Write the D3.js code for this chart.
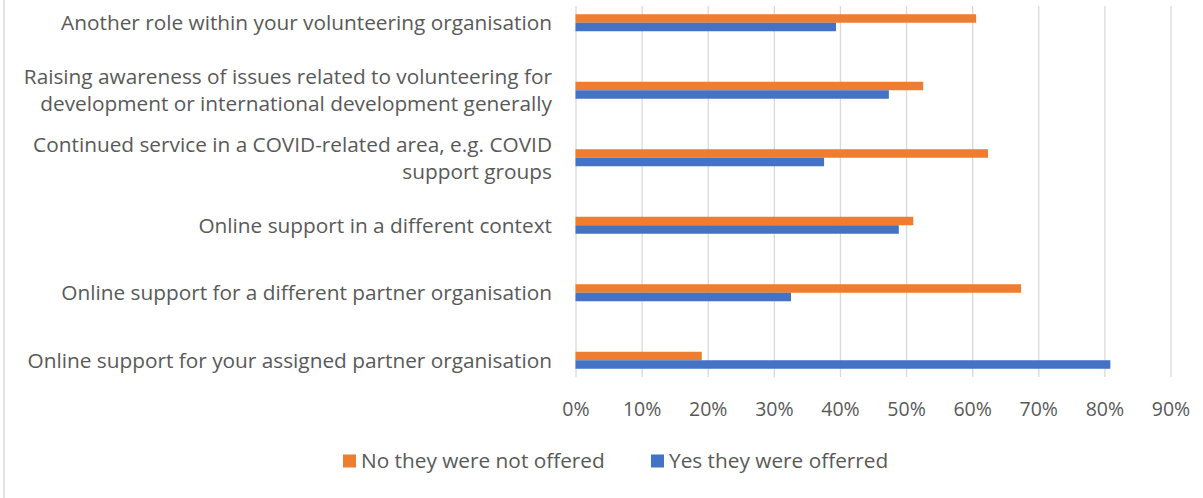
<!DOCTYPE html>
<html>
<head>
<meta charset="utf-8">
<script src="https://cdn.jsdelivr.net/npm/d3@7"></script>
<style>
  body { margin: 0; background: #fff; }
  svg { display: block; font-family: "Open Sans", sans-serif; }
</style>
</head>
<body>
<svg id="chart"></svg>
<script>
var width = 1203;
var height = 498;

// categories, top to bottom (\n = where the label wraps)
var categories = [
  "Another role within your volunteering organisation",
  "Raising awareness of issues related to volunteering for\ndevelopment or international development generally",
  "Continued service in a COVID-related area, e.g. COVID\nsupport groups",
  "Online support in a different context",
  "Online support for a different partner organisation",
  "Online support for your assigned partner organisation"
];
var seriesNames = ["No they were not offered", "Yes they were offerred"];
var noValues  = [0.606, 0.526, 0.624, 0.511, 0.674, 0.191];
var yesValues = [0.394, 0.474, 0.376, 0.489, 0.326, 0.809];
var tickValues = [0, 0.1, 0.2, 0.3, 0.4, 0.5, 0.6, 0.7, 0.8, 0.9];
var colors = ["#ED7D31", "#4472C4"];

var textColor = "#595959";
var gridColor = "#d9d9d9";

var svg = d3.select('#chart')
    .attr('width', width)
    .attr('height', height);

// chart border (only the left edge shows in the frame)
svg.append('line')
    .attr('x1', 4).attr('x2', 4)
    .attr('y1', 0).attr('y2', height)
    .style('stroke', gridColor)
    .style('stroke-width', 1.5);

var x = d3.scaleLinear()
    .domain([0, 0.9])
    .range([575.5, 1170.5]);

var gridTop = 6;
var gridBottom = 377;

var y0 = d3.scaleBand()
    .domain(categories)
    .range([-11, 394])
    .paddingInner(0.748)
    .paddingOuter(0.374);

var y1 = d3.scaleBand()
    .domain(seriesNames)
    .range([0, y0.bandwidth()]);

// gridlines + tick labels
var xAxis = svg.append('g')
    .attr('transform', 'translate(0,' + gridBottom + ')')
    .call(d3.axisBottom(x)
        .tickValues(tickValues)
        .tickSize(-(gridBottom - gridTop))
        .tickFormat(d3.format('.0%')));

xAxis.select('.domain').remove();
xAxis.selectAll('.tick line')
    .style('stroke', gridColor)
    .style('stroke-width', 1.3);
xAxis.selectAll('.tick text')
    .attr('y', 32)
    .attr('dy', '0.35em')
    .style('fill', textColor)
    .style('font-size', '19.5px')
    .style('font-family', '"Open Sans", sans-serif');

// bars
var rows = categories.map(function(c, i){
    return { cat: c, vals: [noValues[i], yesValues[i]] };
});

var groups = svg.selectAll('g.row')
    .data(rows)
    .enter().append('g')
    .attr('class', 'row')
    .attr('transform', function(d){ return 'translate(0,' + y0(d.cat) + ')'; });

groups.selectAll('rect')
    .data(function(d){
        return d.vals.map(function(v, j){ return { name: seriesNames[j], value: v, j: j }; });
    })
    .enter().append('rect')
    .attr('x', x(0))
    .attr('y', function(d){ return y1(d.name); })
    .attr('width', function(d){ return x(d.value) - x(0); })
    .attr('height', y1.bandwidth())
    .style('fill', function(d){ return colors[d.j]; });

// category labels
var lineH = 27;
var labels = svg.append('g')
    .selectAll('text')
    .data(categories)
    .enter().append('text')
    .attr('text-anchor', 'end')
    .style('fill', textColor)
    .style('font-size', '20.8px');

labels.each(function(c){
    var lines = c.split('\n');
    var cy = y0(c) + y0.bandwidth() / 2;
    var start = cy - (lines.length - 1) * lineH / 2;
    var t = d3.select(this);
    lines.forEach(function(l, k){
        t.append('tspan')
            .attr('x', 552)
            .attr('y', start + k * lineH)
            .attr('dy', '0.35em')
            .text(l);
    });
});

// legend
var legendX = [343, 651];
var legend = svg.append('g')
    .selectAll('g')
    .data(seriesNames)
    .enter().append('g')
    .attr('transform', function(d, i){ return 'translate(' + legendX[i] + ',461)'; });

legend.append('rect')
    .attr('x', 0)
    .attr('y', -6.5)
    .attr('width', 13)
    .attr('height', 13)
    .style('fill', function(d, i){ return colors[i]; });

legend.append('text')
    .attr('x', 18)
    .attr('dy', '0.35em')
    .style('fill', textColor)
    .style('font-size', '20.8px')
    .text(function(d){ return d; });
</script>
</body>
</html>
